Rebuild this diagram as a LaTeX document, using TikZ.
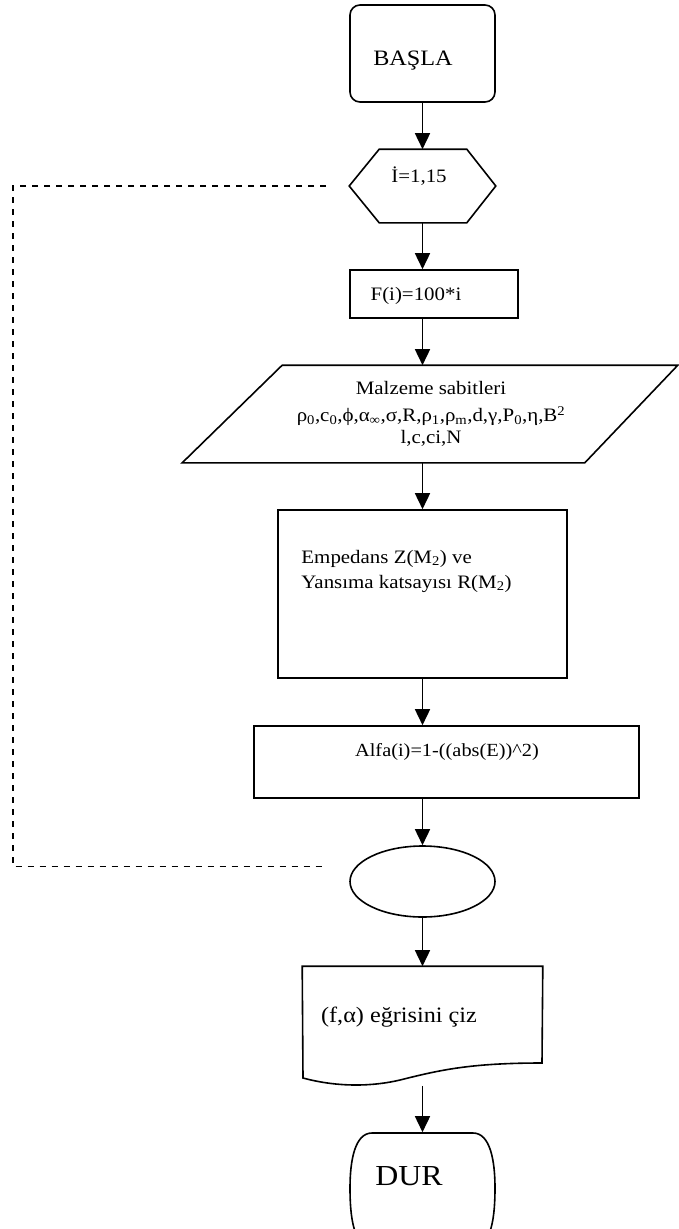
\documentclass[tikz,border=0pt]{standalone}
\usepackage{fontspec}
\setmainfont{Liberation Serif}[FakeStretch=1.1]
\usetikzlibrary{arrows.meta,shapes.geometric}

\begin{document}
\begin{tikzpicture}[x=1pt,y=-1pt,line width=1.6pt,
		font=\fontsize{19}{22}\selectfont,
		kutu/.style={draw,rectangle,inner sep=0pt},
		bos/.style={rectangle,inner sep=0pt},
		ok/.style={-{Triangle[width=15pt,length=16pt]}},
		geri/.style={dash pattern=on 6pt off 6pt,line width=1.5pt}]
	\useasboundingbox (0,0) rectangle (678,1229);
	% kutular
	\node[kutu,rounded corners=10pt,minimum width=145pt,minimum height=97pt,
		label={[xshift=-9.5pt,yshift=-7.5pt,font=\fontsize{22}{26}\selectfont]center:BAŞLA}]
		(basla) at (422.5,53.5) {};
	\node[bos,minimum width=145pt,minimum height=72pt,
		label={[xshift=-3.5pt,yshift=10pt]center:{İ=1,15}}] (dongu) at (422.5,186) {};
	\draw (dongu.west) -- ([xshift=30pt]dongu.north west) -- ([xshift=-29pt]dongu.north east)
		-- (dongu.east) -- ([xshift=-29pt]dongu.south east) -- ([xshift=30pt]dongu.south west) -- cycle;
	\node[kutu,minimum width=168pt,minimum height=48pt,
		label={[xshift=-18pt,yshift=-2pt]center:{F(i)=100*i}}] (fbox) at (434,294) {};
	\node[bos,minimum width=398pt,minimum height=96pt,align=center] (malz) at (431,414)
		{Malzeme sabitleri\\[5pt]
		ρ\textsubscript{0},c\textsubscript{0},ϕ,α\textsubscript{∞},σ,R,ρ\textsubscript{1},ρ\textsubscript{m},d,γ,P\textsubscript{0},η,B\textsuperscript{2}\\
		l,c,ci,N};
	\draw ([xshift=51pt]malz.north west) -- ([xshift=47pt]malz.north east)
		-- ([xshift=-46pt]malz.south east) -- ([xshift=-49pt]malz.south west) -- cycle;
	\node[kutu,minimum width=289pt,minimum height=168pt,
		label={[xshift=-16pt,yshift=23pt,align=left]center:{Empedans Z(M\textsubscript{2}) ve\\[3pt]Yansıma katsayısı R(M\textsubscript{2})}}]
		(emp) at (422.5,594) {};
	\node[kutu,minimum width=385pt,minimum height=72pt,
		label={[xshift=0.5pt,yshift=10pt,font=\fontsize{18.5}{22}\selectfont]center:{Alfa(i)=1-((abs(E))\textasciicircum 2)}}]
		(alfa) at (446.5,762) {};
	\node[draw,ellipse,minimum width=145pt,minimum height=71pt,inner sep=0pt] (son) at (422.5,881.5) {};
	\node[bos,minimum width=239pt,minimum height=118pt,
		label={[xshift=-23.5pt,yshift=9pt,font=\fontsize{22}{26}\selectfont]center:{(f,α) eğrisini çiz}}]
		(cizim) at (422.5,1026) {};
	\draw (cizim.north west) -- (cizim.north east) -- (542,1063)
		.. controls (470,1063) and (440,1070) .. (400,1080)
		.. controls (375,1086) and (340,1088) .. (303,1078) -- cycle;
	\node[bos,minimum width=145pt,minimum height=114pt,
		label={[xshift=-13.5pt,yshift=14pt,font=\fontsize{29}{34}\selectfont]center:DUR}]
		(dur) at (422.5,1190) {};
	\draw (372,1133) -- (473,1133) .. controls (490,1133) and (495,1160) .. (495,1188)
		.. controls (495,1215) and (492,1247) .. (473,1247) -- (372,1247)
		.. controls (353,1247) and (350,1215) .. (350,1188)
		.. controls (350,1160) and (355,1133) .. (372,1133) -- cycle;
	% oklar
	\draw[ok] (basla.south) -- (dongu.north);
	\draw[ok] (dongu.south) -- (dongu.south |- fbox.north);
	\draw[ok] (dongu.south |- fbox.south) -- (dongu.south |- malz.north);
	\draw[ok] (dongu.south |- malz.south) -- (emp.north);
	\draw[ok] (emp.south) -- (emp.south |- alfa.north);
	\draw[ok] (emp.south |- alfa.south) -- (son.north);
	\draw[ok] (son.south) -- (cizim.north);
	\draw[ok] (cizim.south) -- (dur.north);
	% geri donus
	\draw[geri] ([xshift=-23pt]dongu.west) -| ([xshift=-336pt,yshift=15pt]son.west)
		-- ([xshift=-23pt,yshift=15pt]son.west);
\end{tikzpicture}
\end{document}
